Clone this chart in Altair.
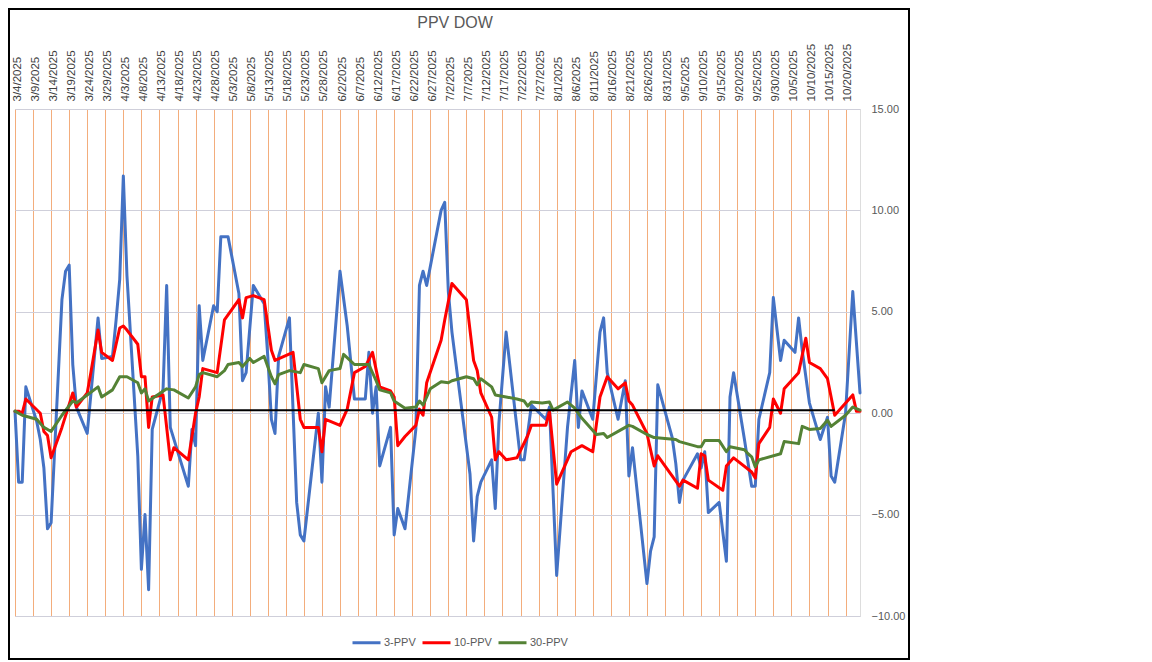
import altair as alt
import pandas as pd

# ---------------- data ----------------
title_text = "PPV DOW"
series_names = ["3-PPV", "10-PPV", "30-PPV"]
series_colors = ["#4472C4", "#FF0000", "#548235"]
year = 2025

ppv3_dates = ["3/4", "3/5", "3/6", "3/7", "3/10", "3/11", "3/12", "3/13", "3/14",
              "3/17", "3/18", "3/19", "3/20", "3/21", "3/24", "3/27", "3/28",
              "3/31", "4/1", "4/2", "4/3", "4/4", "4/7", "4/8", "4/9", "4/10", "4/11",
              "4/14", "4/15", "4/16", "4/21", "4/22", "4/23", "4/24", "4/25",
              "4/28", "4/29", "4/30", "5/1", "5/2", "5/5", "5/6", "5/7", "5/9",
              "5/12", "5/13", "5/14", "5/15", "5/16", "5/19", "5/21", "5/22", "5/23",
              "5/27", "5/28", "5/29", "5/30", "6/2", "6/4", "6/6", "6/9", "6/10", "6/11", "6/12", "6/13",
              "6/16", "6/17", "6/18", "6/20", "6/23", "6/24", "6/25", "6/26", "6/30", "7/1", "7/2", "7/3",
              "7/8", "7/9", "7/10", "7/11", "7/14", "7/15", "7/16", "7/18",
              "7/22", "7/23", "7/25", "7/29", "7/30", "8/1", "8/4", "8/6", "8/7", "8/8",
              "8/11", "8/13", "8/14", "8/15", "8/18", "8/20", "8/21", "8/22", "8/26", "8/27", "8/28", "8/29",
              "9/2", "9/3", "9/4", "9/5", "9/9", "9/10", "9/11", "9/12", "9/15", "9/17", "9/18", "9/19",
              "9/22", "9/24", "9/25", "9/26", "9/29", "9/30", "10/2", "10/3", "10/6", "10/7", "10/8", "10/10",
              "10/13", "10/15", "10/16", "10/17", "10/20", "10/22", "10/24"]
ppv3_values = [0.1, -3.4, -3.4, 1.3, -0.4, -1.3, -2.7, -5.7, -5.4,
               5.6, 7.0, 7.3, 2.4, 0.3, -1.0, 4.7, 2.7,
               2.8, 4.6, 6.6, 11.7, 6.8, -2.1, -7.7, -5.0, -8.7, -0.8,
               1.2, 6.3, -0.7, -3.6, -0.8, -1.6, 5.3, 2.6,
               5.3, 5.0, 8.7, 8.7, 8.7, 5.9, 1.6, 2.0, 6.3,
               5.4, 2.8, -0.3, -1.0, 2.8, 4.7, -4.4, -6.0, -6.3,
               0.0, -3.4, 1.3, 0.3, 7.0, 4.3, 0.7, 0.7, 3.0, 0.0, 1.3, -2.6,
               -0.7, -6.0, -4.7, -5.7, -0.8, 6.3, 7.0, 6.3, 10.0, 10.4, 6.0, 4.0,
               -3.0, -6.3, -4.1, -3.4, -2.3, -4.7, -0.5, 4.0,
               -2.3, -2.3, 0.4, -0.3, 0.3, -8.0, -0.7, 2.6, -0.7, 1.1,
               -0.3, 4.0, 4.7, 2.0, -0.3, 1.6, -3.1, -1.7, -8.4, -6.8, -6.1, 1.4,
               -1.2, -2.5, -4.4, -3.3, -2.0, -2.7, -1.9, -4.9, -4.4, -7.3, 0.8, 2.0,
               -1.3, -3.6, -3.6, -0.3, 2.0, 5.7, 2.6, 3.6, 3.0, 4.7, 3.1, 0.5,
               -1.3, -0.2, -3.1, -3.4, 0.0, 6.0, 1.0]

ppv10_dates = ["3/4", "3/5", "3/6", "3/7", "3/11", "3/12", "3/13", "3/14", "3/17", "3/20", "3/21",
               "3/24", "3/25", "3/27", "3/28", "3/31", "4/2", "4/3", "4/4", "4/7", "4/8", "4/9",
               "4/10", "4/11", "4/14", "4/16", "4/17", "4/21", "4/23", "4/24", "4/25", "4/29",
               "5/1", "5/5", "5/6", "5/7", "5/9", "5/12", "5/14", "5/15", "5/20", "5/22", "5/23",
               "5/27", "5/28", "5/29", "6/2", "6/4", "6/6", "6/9", "6/11", "6/13", "6/16", "6/17",
               "6/18", "6/20", "6/23", "6/24", "6/25", "6/26", "6/30", "7/1", "7/3", "7/7", "7/9",
               "7/10", "7/11", "7/14", "7/15", "7/16", "7/18", "7/21", "7/24", "7/25", "7/29",
               "7/30", "8/1", "8/5", "8/8", "8/11", "8/13", "8/15", "8/18", "8/20", "8/21", "8/22",
               "8/26", "8/28", "8/29", "9/4", "9/5", "9/9", "9/10", "9/11", "9/12", "9/16", "9/17",
               "9/19", "9/24", "9/25", "9/26", "9/29", "9/30", "10/2", "10/3", "10/7", "10/9",
               "10/10", "10/13", "10/15", "10/17", "10/22", "10/23", "10/24"]
ppv10_values = [0.1, 0.1, 0.0, 0.7, 0.0, -0.9, -1.1, -2.2, -0.7, 1.0, 0.3,
                1.0, 2.0, 4.1, 3.0, 2.6, 4.2, 4.3, 4.1, 3.4, 1.8, 1.8,
                -0.7, 0.8, 0.9, -2.3, -1.7, -2.3, 0.0, 0.8, 2.2, 2.0,
                4.6, 5.6, 4.7, 5.7, 5.8, 5.6, 3.1, 2.6, 3.0, -0.3, -0.7,
                -0.7, -1.9, -0.3, -0.6, 0.2, 2.0, 2.3, 3.0, 1.3, 1.1, 0.8,
                -1.6, -1.15, -0.6, 0.2, -0.1, 1.5, 3.6, 4.6, 6.4, 5.6, 2.6,
                2.1, 1.0, -0.2, -2.3, -1.9, -2.3, -2.2, -1.1, -0.6, -0.6,
                0.1, -3.5, -1.9, -1.6, -1.9, 0.8, 1.8, 1.2, 1.5, 0.6, 0.4,
                -1.0, -2.6, -2.1, -3.6, -3.3, -3.7, -2.0, -2.1, -3.3, -3.8, -2.6,
                -2.2, -2.9, -3.2, -1.5, -0.7, 0.7, 0.0, 1.2, 2.0, 3.7,
                2.5, 2.2, 1.7, -0.1, 0.9, 0.1, 0.1]

ppv30_dates = ["3/4", "3/6", "3/10", "3/12", "3/14", "3/17", "3/20", "3/21", "3/24", "3/27", "3/28",
               "3/31", "4/2", "4/4", "4/7", "4/8", "4/9", "4/10", "4/15", "4/17", "4/21", "4/23",
               "4/24", "4/25", "4/29", "5/1", "5/2", "5/5", "5/6", "5/8", "5/9", "5/12", "5/14",
               "5/15", "5/16", "5/19", "5/22", "5/23", "5/27", "5/28", "5/30", "6/2", "6/3", "6/6",
               "6/10", "6/12", "6/13", "6/16", "6/17", "6/20", "6/23", "6/24", "6/25", "6/27", "6/30",
               "7/2", "7/3", "7/7", "7/9", "7/10", "7/11", "7/14", "7/15", "7/18", "7/21", "7/23",
               "7/24", "7/25", "7/28", "7/30", "7/31", "8/4", "8/6", "8/8", "8/12", "8/14", "8/15",
               "8/19", "8/21", "8/22", "8/26", "8/28", "9/3", "9/4", "9/9", "9/10", "9/11", "9/15",
               "9/17", "9/18", "9/22", "9/23", "9/24", "9/25", "9/26", "10/2", "10/3", "10/7", "10/8",
               "10/10", "10/13", "10/15", "10/16", "10/20", "10/22", "10/24"]
ppv30_values = [0.1, -0.1, -0.3, -0.7, -0.9, -0.1, 0.6, 0.5, 0.9, 1.3, 0.8,
                1.15, 1.8, 1.8, 1.5, 1.0, 1.2, 0.6, 1.2, 1.15, 0.75, 1.3,
                1.9, 2.0, 1.8, 2.1, 2.4, 2.5, 2.3, 2.7, 2.5, 2.8, 1.8,
                1.45, 1.9, 2.1, 2.0, 2.4, 2.2, 1.5, 2.1, 2.2, 2.9, 2.4,
                2.4, 1.6, 1.15, 1.0, 0.6, 0.25, 0.3, 0.6, 0.4, 1.2, 1.55,
                1.5, 1.6, 1.8, 1.7, 1.4, 1.7, 1.3, 0.9, 0.8, 0.7, 0.6,
                0.35, 0.55, 0.5, 0.55, 0.15, 0.55, 0.25, -0.25, -1.05, -1.0, -1.2,
                -0.8, -0.6, -0.65, -1.05, -1.2, -1.3, -1.4, -1.65, -1.65, -1.35, -1.35,
                -1.9, -1.65, -1.8, -2.0, -2.15, -2.65, -2.3, -2.0, -1.4, -1.5, -0.65,
                -0.8, -0.75, -0.35, -0.65, -0.1, 0.3, 0.15]

ref_line_start = "3/14"
ref_line_end = "10/17"
ref_line_value = 0.15

axis_start = "3/4"
axis_end = "10/24"
x_tick_dates = ["3/4", "3/9", "3/14", "3/19", "3/24", "3/29", "4/3", "4/8", "4/13", "4/18",
                "4/23", "4/28", "5/3", "5/8", "5/13", "5/18", "5/23", "5/28", "6/2", "6/7",
                "6/12", "6/17", "6/22", "6/27", "7/2", "7/7", "7/12", "7/17", "7/22", "7/27",
                "8/1", "8/6", "8/11", "8/16", "8/21", "8/26", "8/31", "9/5", "9/10", "9/15",
                "9/20", "9/25", "9/30", "10/5", "10/10", "10/15", "10/20"]
y_ticks = [-10, -5, 0, 5, 10, 15]


# ---------------- helpers ----------------
def to_ts(md):
    m, d = md.split("/")
    return pd.Timestamp(year=year, month=int(m), day=int(d))


def to_dt(md):
    m, d = md.split("/")
    return alt.DateTime(year=year, month=int(m), date=int(d))


frames = []
for name, dates, vals in [(series_names[0], ppv3_dates, ppv3_values),
                          (series_names[1], ppv10_dates, ppv10_values),
                          (series_names[2], ppv30_dates, ppv30_values)]:
    frames.append(pd.DataFrame({"date": [to_ts(s) for s in dates],
                                "value": vals,
                                "series": name,
                                "rank": series_names.index(name)}))
df = pd.concat(frames, ignore_index=True)

ref_df = pd.DataFrame({"start": [to_ts(ref_line_start)],
                       "end": [to_ts(ref_line_end)],
                       "value": [ref_line_value]})
title_df = pd.DataFrame({"label": [title_text]})

FONT = "Liberation Sans"

x_scale = alt.Scale(domain=[to_dt(axis_start), to_dt(axis_end)])
y_scale = alt.Scale(domain=[-10, 15], nice=False)

x_axis = alt.Axis(orient="top", values=[to_dt(s) for s in x_tick_dates],
                  tickCount=200,
                  format="%-m/%-d/%Y", labelAngle=-90, labelAlign="left",
                  labelBaseline="middle", labelPadding=8, labelOffset=2,
                  ticks=False, domain=False,
                  grid=True, gridColor="#F3AD7C", gridWidth=1,
                  labelColor="#404040", labelFont=FONT, labelFontSize=11.5,
                  labelOverlap=False, labelBound=False, title=None)
y_axis = alt.Axis(orient="right", values=y_ticks, format=".2f", labelAlign="left",
                  labelPadding=11, ticks=False, domain=False, grid=True,
                  gridColor="#CFCFDA", gridWidth=1, labelColor="#595959",
                  labelFont=FONT, labelFontSize=11, title=None)

lines = alt.Chart(df).mark_line(strokeWidth=3, strokeJoin="round", strokeCap="round").encode(
    x=alt.X("date:T", scale=x_scale, axis=x_axis),
    y=alt.Y("value:Q", scale=y_scale, axis=y_axis),
    color=alt.Color("series:N",
                    scale=alt.Scale(domain=series_names, range=series_colors),
                    legend=alt.Legend(orient="none", legendX=336, legendY=518,
                                      direction="horizontal", columns=3,
                                      symbolType="stroke", symbolStrokeWidth=3,
                                      symbolSize=784, labelFont=FONT,
                                      labelFontSize=11, labelColor="#595959",
                                      labelOffset=2, columnPadding=0, padding=0,
                                      title=None)),
    order=alt.Order("rank:Q"),
)

ref_rule = alt.Chart(ref_df).mark_rule(color="black", strokeWidth=2).encode(
    x=alt.X("start:T", scale=x_scale),
    x2="end:T",
    y=alt.Y("value:Q", scale=y_scale),
)

title_mark = alt.Chart(title_df).mark_text(
    font=FONT, fontSize=16, color="#595959", align="center", baseline="middle"
).encode(text="label:N", x=alt.value(440), y=alt.value(-86))

frame = alt.Chart(ref_df).mark_rect(fill=None, stroke="black", strokeWidth=2, clip=False).encode(
    x=alt.value(-6), x2=alt.value(894), y=alt.value(-100), y2=alt.value(550)
)

chart = alt.layer(lines, ref_rule, title_mark, frame).properties(
    width=845,
    height=507,
    padding={"left": 7, "top": 101, "right": 60, "bottom": 45},
    autosize=alt.AutoSizeParams(type="none"),
).configure_view(stroke=None).configure(background="white")

chart.save("out.html", embed_options={"renderer": "svg", "actions": False})
